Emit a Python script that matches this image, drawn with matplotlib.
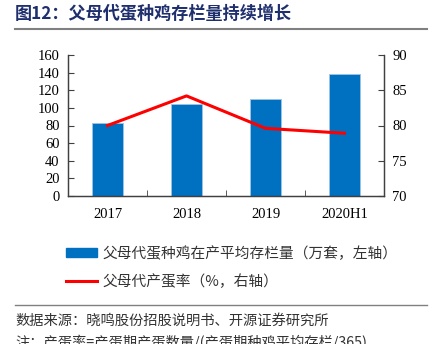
import matplotlib
matplotlib.use("Agg")
import matplotlib.pyplot as plt
from matplotlib.lines import Line2D
from matplotlib.patches import Patch

categories = ["2017", "2018", "2019", "2020H1"]
stock = [83.3, 104.0, 109.8, 139.0]
lay_rate = [80.0, 84.2, 79.6, 78.9]
left_ticks = [0, 20, 40, 60, 80, 100, 120, 140, 160]
right_ticks = [70, 75, 80, 85, 90]

title = "图12：父母代蛋种鸡存栏量持续增长"
legend_bar = "父母代蛋种鸡在产平均存栏量（万套，左轴）"
legend_line = "父母代产蛋率（%，右轴）"
source = "数据来源：晓鸣股份招股说明书、开源证券研究所"
note = "注：产蛋率=产蛋期产蛋数量/(产蛋期种鸡平均存栏/365)"

cjk = ["Noto Sans CJK SC", "DejaVu Sans"]
serif = ["Liberation Serif", "DejaVu Serif"]

W, H = 432, 344
fig = plt.figure(figsize=(W / 100, H / 100), dpi=100)

ax = fig.add_axes([68 / W, 1 - 196 / H, (384 - 68) / W, (196 - 55) / H])
x = list(range(len(categories)))
ax.bar(x, stock, width=0.4, color="#0070C0", edgecolor="#9DC3E6", linewidth=0.6, zorder=2)
ax.set_xlim(-0.5, 3.5)
ax.set_ylim(0, 160)
ax.set_yticks(left_ticks)
ax.set_yticklabels([str(v) for v in left_ticks], family=serif, fontsize=10.5)
ax.set_xticks(x)
ax.set_xticklabels(categories, family=serif, fontsize=10.5)
ax.tick_params(axis="x", length=0, pad=9)
ax.set_xticks([0.5, 1.5, 2.5], minor=True)
ax.tick_params(axis="x", which="minor", direction="in", length=4, color="#404040")
ax.tick_params(axis="y", direction="in", length=4, color="#404040", pad=6)
ax.spines["top"].set_visible(False)
for s in ["left", "bottom", "right"]:
    ax.spines[s].set_color("#404040")
    ax.spines[s].set_linewidth(0.9)

ax2 = ax.twinx()
ax2.plot(x, lay_rate, color="#FF0000", linewidth=2.2, zorder=3)
ax2.set_ylim(70, 90)
ax2.set_yticks(right_ticks)
ax2.set_yticklabels([str(v) for v in right_ticks], family=serif, fontsize=10.5)
ax2.tick_params(axis="y", direction="in", length=4, color="#404040", pad=6)
ax2.spines["top"].set_visible(False)
for s in ["left", "bottom", "right"]:
    ax2.spines[s].set_color("#404040")
    ax2.spines[s].set_linewidth(0.9)

# Title
fig.text(15 / W, 1 - 14 / H, title, family=cjk, fontsize=12.3, fontweight="bold",
         color="#1F2F6E", va="center", ha="left")
fig.add_artist(Line2D([15 / W, 427 / W], [1 - 28.5 / H] * 2, color="#808080", linewidth=1.5))

# Legend
handles = [Patch(facecolor="#0070C0", edgecolor="#0070C0"),
           Line2D([0], [0], color="#FF0000", linewidth=2.2)]
leg = fig.legend(handles, [legend_bar, legend_line], loc="upper left",
                 bbox_to_anchor=(53 / W, 1 - 233 / H), frameon=False,
                 prop={"family": cjk, "size": 10.6}, handlelength=2.1,
                 handleheight=0.55, labelspacing=0.9, handletextpad=0.35)
for t in leg.get_texts():
    t.set_color("#333333")

# Source
fig.add_artist(Line2D([15 / W, 427 / W], [1 - 305 / H] * 2, color="#808080", linewidth=1.0))
fig.text(15 / W, 1 - 321 / H, source, family=cjk, fontsize=10.3, color="#333333",
         va="center", ha="left")
fig.text(15 / W, 1 - 342 / H, note, family=cjk, fontsize=10.3, color="#333333",
         va="center", ha="left")

fig.savefig("out.png", dpi=100)
